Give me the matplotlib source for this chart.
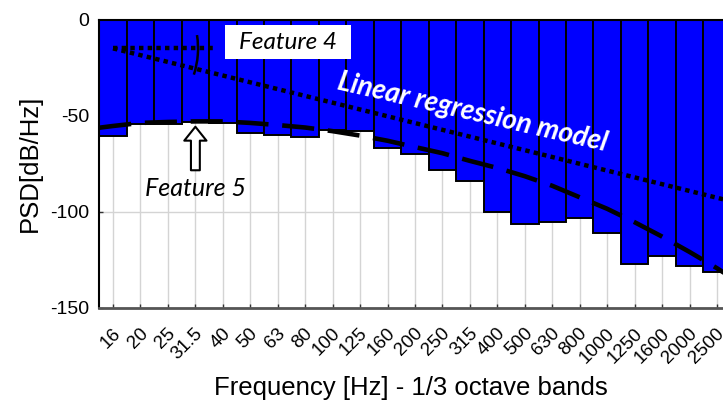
import matplotlib
matplotlib.use("Agg")
import matplotlib.pyplot as plt
from matplotlib.patches import Arc, Rectangle
from matplotlib.transforms import ScaledTranslation, blended_transform_factory

plt.rcParams['axes.unicode_minus'] = False
plt.rcParams['font.family'] = ['Liberation Sans', 'DejaVu Sans']

# ---- data ----
bands = ["16", "20", "25", "31.5", "40", "50", "63", "80", "100", "125", "160",
         "200", "250", "315", "400", "500", "630", "800", "1000", "1250", "1600",
         "2000", "2500"]
psd_db = [-60.6, -54.0, -54.5, -53.0, -53.5, -58.7, -59.8, -61.3, -57.5, -58.0,
          -66.7, -69.7, -78.1, -84.2, -100.4, -106.6, -105.4, -103.3, -111.2,
          -127.2, -123.2, -128.6, -131.7]
# envelope curve (Feature 5), read at band positions
envelope_pos = [-0.5] + list(range(23)) + [22.3]
envelope_db = [-56.2, -55.3, -53.7, -53.2, -52.9, -52.9, -53.7, -54.8, -56.1, -58.0,
               -60.3, -63.0, -66.3, -69.5, -73.5, -77.2, -81.5, -86.5, -92.5, -98.5,
               -105.5, -113.0, -121.0, -129.5, -132.3]
# linear regression model (Feature 4)
regression_pos = [0, 22.3]
regression_db = [-14.8, -93.8]
feature4_ref_pos = [0, 3.72]
feature4_ref_db = [-14.8, -14.8]
yticks = [0, -50, -100, -150]

W, H = 723, 407
fig = plt.figure(figsize=(W / 100, H / 100), dpi=100)
ax = fig.add_axes([99.3 / W, (H - 307.5) / H, (W - 99.3) / W, 287.5 / H])

x = list(range(len(bands)))
ax.bar(x, psd_db, width=1.0, color='#0000ff', edgecolor='black', linewidth=1.4, zorder=2)

ax.set_xlim(-0.5, 22.22)
ax.set_ylim(-150, 0)
ax.set_axisbelow(True)
ax.grid(True, color='#d4d4d4', linewidth=1.0)

# lines
ax.plot(envelope_pos, envelope_db, color='black', lw=3.3, dashes=(7, 3), zorder=4,
        dash_capstyle='butt')
ax.plot(regression_pos, regression_db, color='black', lw=3.2, dashes=(1, 0.95), zorder=4)
ax.plot(feature4_ref_pos, feature4_ref_db, color='black', lw=3.2, dashes=(1, 0.95), zorder=4)

# angle arc for Feature 4
arc_trans = fig.dpi_scale_trans + ScaledTranslation(regression_pos[0], regression_db[0], ax.transData)
ax.add_patch(Arc((0, 0), 1.70, 1.70, theta1=-18, theta2=9, transform=arc_trans,
                 color='black', lw=1.8, zorder=5))

# ticks
ax.set_yticks(yticks)
ax.set_yticklabels([str(v) for v in yticks], fontsize=14)
ax.set_xticks(x)
ax.set_xticklabels([])
lab_trans = blended_transform_factory(ax.transData, ax.transAxes) + \
    ScaledTranslation(5 / 100, -23.5 / 100, fig.dpi_scale_trans)
for xi, b in zip(x, bands):
    ax.text(xi, 0, b, transform=lab_trans, fontsize=13.5, rotation=45, ha='right',
            va='center', rotation_mode='anchor', clip_on=False)
ax.tick_params(axis='x', direction='in', length=3, width=1, color='#333333', top=True)
ax.tick_params(axis='y', direction='in', length=3, width=1, color='#333333', pad=7)

for s in ['left', 'top']:
    ax.spines[s].set_color('black')
    ax.spines[s].set_linewidth(1.5)
ax.spines['bottom'].set_color('#555555')
ax.spines['bottom'].set_linewidth(2)
ax.spines['right'].set_visible(False)

# annotations
ann_font = ['Lato', 'DejaVu Sans']
ax.add_patch(Rectangle((4.08, -20.5), 4.59, 17.9, fc='white', ec='none', zorder=5))
ax.text(6.36, -11.8, "Feature 4", fontsize=17.5, style='italic', family=ann_font,
        ha='center', va='center', zorder=6)
ax.text(2.99, -87.8, "Feature 5", fontsize=18, style='italic', family=ann_font,
        ha='center', va='center', zorder=6)
ax.text(13.1, -48.3, "Linear regression model", fontsize=20, style='italic',
        weight='bold', family=ann_font, color='white', rotation=-13,
        ha='center', va='center', rotation_mode='anchor', zorder=6)
ax.annotate('', xy=(3, -55.7), xytext=(3, -78.4),
            arrowprops=dict(arrowstyle='simple,head_length=0.5,head_width=0.8,tail_width=0.32',
                            mutation_scale=20, fc='white', ec='black', lw=1.5,
                            shrinkA=0, shrinkB=0), zorder=6)

fig.text(30 / W, 1 - 163.5 / H, "PSD[dB/Hz]", rotation=90, fontsize=18.5,
         ha='center', va='center')
fig.text(411 / W, 1 - 388 / H, "Frequency [Hz] - 1/3 octave bands", fontsize=18.5,
         ha='center', va='center')

fig.savefig("out.png", dpi=100)
